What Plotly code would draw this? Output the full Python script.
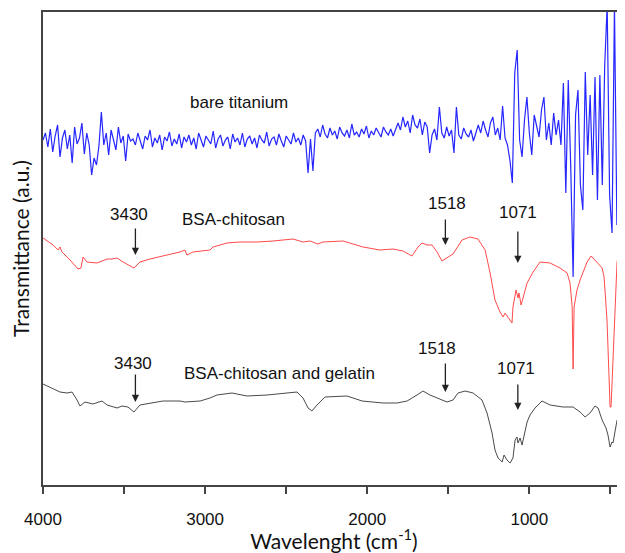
import plotly.graph_objects as go

# ---- data (wavenumber in cm-1, transmittance in arbitrary units) ----
blue_step = 15  # sampling interval of the bare titanium spectrum, cm-1
blue_t = [
    345, 352, 338, 356, 333, 349, 360, 328, 347, 355, 336, 350, 322, 358, 341, 347, 362, 331, 352, 340, 310, 327, 320, 339,
    373, 340, 352, 330, 355, 346, 335, 358, 342, 349, 324, 351, 344,
    346, 340, 352, 343, 336, 349, 345, 355, 338, 347, 342, 350, 335, 348, 344, 353, 339, 346, 341, 351, 337, 348, 343, 350,
    340, 347, 336, 352, 344, 338, 349, 345, 341, 354, 337, 346, 350, 339, 345, 348, 336, 351, 343, 347, 340, 352, 338, 346, 349,
    341, 347, 337, 350, 345, 342, 353, 339, 346, 348, 340, 351, 344, 338, 349, 345, 341, 352, 343, 347, 340, 350, 344,
    312, 346, 314, 352,
    356, 348, 360, 351, 347, 357, 350, 354, 346, 358, 352, 349, 355, 347, 361, 350, 353, 348, 356, 351, 359, 347, 354, 350, 357, 352, 348, 358, 353, 350, 356, 349, 355,
    362, 355, 368, 358, 364, 352, 370, 360, 357, 366, 350, 363, 358, 332,
    350, 356, 345, 378, 352, 347, 358, 349, 355, 332, 378, 350, 346, 357, 351, 348, 355, 344, 353,
    360, 352, 364, 355, 348, 362, 368, 350, 357, 345, 379, 347, 340,
    325, 302, 412, 435, 345, 328,
    365, 388, 352, 330, 370, 358, 348, 375, 388, 345, 362, 340, 372, 350, 365,
    340, 402, 292, 405, 320, 208, 370, 395, 300, 275, 413, 330, 390, 310, 408, 285, 410, 300, 420, 480, 290, 252, 480, 260, 335,
]
blue_wn = [4000 - blue_step * i for i in range(len(blue_t))]

red_wn = [4000, 3938, 3907, 3895, 3883, 3833, 3784, 3766, 3753, 3729, 3667, 3605, 3574, 3543, 3506, 3476, 3439, 3402, 3340, 3235,
          3155, 3124, 3112, 3075, 2970, 2951, 2865, 2785, 2680, 2581, 2458, 2396, 2353, 2304, 2273, 2149, 2026, 1921, 1841, 1779,
          1724, 1687, 1662, 1631, 1600, 1569, 1539, 1520, 1471, 1415, 1366, 1317, 1273, 1242, 1212, 1181, 1162, 1150, 1131, 1107,
          1101, 1082, 1070, 1064, 1051, 1014, 977, 934, 872, 811, 767, 749, 736, 730, 724, 706, 687, 644, 619, 582,
          551, 539, 521, 502, 496, 484, 471, 459, 453]
red_t = [247, 240, 235, 238, 233, 225, 216, 217, 228, 223, 222, 226, 226, 227, 223, 220, 217, 223, 226, 230,
         233, 235, 230, 233, 235, 238, 242, 243, 243, 244, 246, 243, 244, 241, 243, 244, 238, 235, 236, 234,
         229, 238, 242, 240, 240, 233, 224, 226, 231, 245, 248, 246, 235, 212, 185, 173, 168, 172, 167, 162,
         178, 195, 187, 192, 180, 202, 213, 223, 222, 217, 212, 202, 178, 116, 178, 195, 205, 223, 229, 223,
         217, 208, 165, 78, 78, 125, 185, 223, 228]

black_wn = [4000, 3957, 3895, 3852, 3821, 3790, 3772, 3741, 3692, 3636, 3605, 3543, 3513, 3476, 3439, 3402, 3340, 3260, 3155, 3124,
            3031, 2970, 2927, 2834, 2742, 2618, 2495, 2433, 2396, 2365, 2341, 2310, 2260, 2168, 2125, 2032, 1903, 1816, 1754, 1693,
            1656, 1613, 1551, 1508, 1471, 1440, 1397, 1347, 1292, 1261, 1230, 1212, 1193, 1168, 1156, 1138, 1119, 1101, 1088, 1076,
            1070, 1057, 1045, 1014, 996, 965, 922, 872, 792, 730, 687, 656, 626, 595, 576, 551, 527, 515, 502, 490,
            484, 471, 459]
black_t = [101, 98, 93, 92, 93, 85, 79, 83, 81, 84, 80, 77, 79, 78, 73, 80, 82, 84, 84, 83,
           84, 87, 90, 92, 89, 90, 92, 93, 87, 77, 74, 80, 88, 89, 89, 84, 82, 82, 84, 90,
           94, 90, 86, 83, 85, 92, 94, 92, 85, 72, 52, 35, 27, 23, 30, 25, 22, 27, 45, 48,
           42, 47, 40, 63, 70, 77, 84, 80, 78, 78, 73, 68, 72, 79, 77, 65, 57, 50, 38, 43,
           42, 55, 65]

x_ticks = [4000, 3000, 2000, 1000]
x_tick_labels = ["4000", "3000", "2000", "1000"]

# labels: (text, wavenumber, level)
labels = [("bare titanium", 2791, 383), ("BSA-chitosan", 2828, 266)]
# peak markers: (text, peak wn, text wn, text level, arrow tail level, arrow tip level)
peaks = [
    ("3430", 3430, 3470, 271, 258, 230),
    ("1518", 1518, 1508, 282, 267, 240),
    ("1071", 1071, 1071, 273, 255, 222),
    ("3430", 3430, 3442, 122, 112, 83),
    ("1518", 1518, 1570, 137, 123, 93),
    ("1071", 1071, 1085, 117, 102, 75),
]
gel_label = ("BSA-chitosan and gelatin", 3142, 112)

fig = go.Figure()
fig.add_trace(go.Scatter(x=blue_wn, y=blue_t, mode="lines", line=dict(color="#2626ff", width=1.2),
                         name="bare titanium", showlegend=False))
fig.add_trace(go.Scatter(x=red_wn, y=red_t, mode="lines", line=dict(color="#ff4a4a", width=1),
                         name="BSA-chitosan", showlegend=False))
fig.add_trace(go.Scatter(x=black_wn, y=black_t, mode="lines", line=dict(color="#4a4a4a", width=1),
                         name="BSA-chitosan and gelatin", showlegend=False))

afont = dict(family="Liberation Sans, Arial", size=17, color="#111")
anns = []
for txt, wn, lv in labels:
    anns.append(dict(x=wn, y=lv, xref="x", yref="y", text=txt, showarrow=False, font=afont))
anns.append(dict(x=gel_label[1], y=gel_label[2], xref="x", yref="y", text=gel_label[0],
                 showarrow=False, font=afont, xanchor="left"))
for txt, pk, twn, tlv, tail, tip in peaks:
    anns.append(dict(x=twn, y=tlv, xref="x", yref="y", text=txt, showarrow=False, font=afont))
    anns.append(dict(x=pk, y=tip, ax=pk, ay=tail, xref="x", yref="y", axref="x", ayref="y",
                     text="", showarrow=True, arrowhead=2, arrowsize=1.1, arrowwidth=1.3,
                     arrowcolor="#222"))

# the page body adds an 8 px offset, so the figure is 8 px smaller than the window
fig.update_layout(
    width=617, height=545,
    margin=dict(l=35, r=0, t=4, b=68),
    paper_bgcolor="white", plot_bgcolor="white",
    annotations=anns,
    xaxis=dict(
        range=[4000, 410], tickvals=x_ticks, ticktext=x_tick_labels,
        ticks="outside", ticklen=7, tickwidth=1.5, tickcolor="#444",
        minor=dict(dtick=500, tick0=0, ticks="outside", ticklen=7, tickwidth=1.5, tickcolor="#444"),
        showline=True, linecolor="#444", linewidth=2, mirror=True,
        showgrid=False, zeroline=False,
        tickfont=dict(family="Liberation Sans, Arial", size=17, color="#111"),
        ticklabelstandoff=11,
        title=dict(text="Wavelenght (cm<sup>-1</sup>)", standoff=7,
                   font=dict(family="Lato", size=21, color="#111")),
    ),
    yaxis=dict(
        range=[0, 473], showticklabels=False, ticks="",
        showline=True, linecolor="#444", linewidth=2,
        showgrid=False, zeroline=False,
        title=dict(text="Transmittance (a.u.)", standoff=9,
                   font=dict(family="Lato", size=21, color="#111")),
    ),
)

fig.write_html("out.html")
